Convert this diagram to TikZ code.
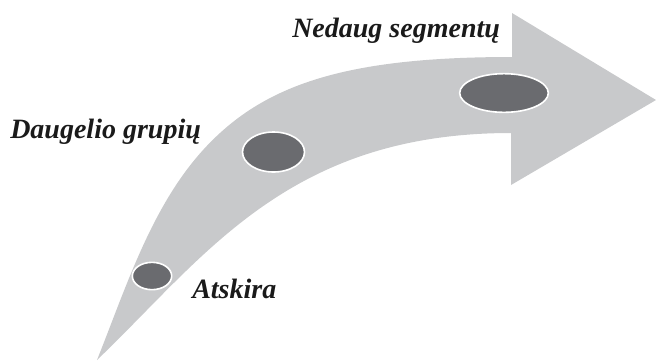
\documentclass[tikz,border=0pt]{standalone}
\usepackage{fontspec}
\setmainfont{Liberation Serif}
\usepackage{xcolor}
\usepackage{tikz}
\usetikzlibrary{positioning,shapes.geometric}
\definecolor{roadgray}{HTML}{C8C9CB}
\definecolor{stone}{HTML}{6A6B6F}
\definecolor{ink}{HTML}{1A1A1A}
\newcommand{\StageFont}{\bfseries\itshape\fontsize{21}{25}\selectfont}
\tikzset{
  every node/.style={text=ink},
  stagedisc/.style 2 args={
    ellipse, draw=white, line width=1.2pt, fill=stone,
    minimum width=#1, minimum height=#2, inner sep=0pt
  },
  stagelabel/.style={anchor=base west, inner sep=0pt, font=\StageFont}
}

\begin{document}
\begin{tikzpicture}[x=0.75pt,y=-0.75pt]
\useasboundingbox (0,0) rectangle (656,362);

% =========================
% CURVED ARROW (shaft + head)
% =========================
\coordinate (tail)  at (97,360);
\coordinate (bend)  at (220,133);
\coordinate (upJ)   at (512,57);   % upper shaft meets head
\coordinate (loJ)   at (511,133);  % lower shaft meets head
\coordinate (headT) at (512,13);
\coordinate (headB) at (511,185);
\coordinate (tip)   at (656,100);

\fill[roadgray] (tail) .. controls (129,280) and (156,191) .. (bend)
      .. controls (279,79) and (362,57) .. (upJ)
      -- (headT) -- (tip) -- (headB) -- (loJ)
      .. controls (288,133) and (205,256.5) .. (tail) -- cycle;

% =========================
% STAGES (discs with white rims)
% =========================
\node[stagedisc={29.5pt}{20.5pt}] (one)  at (152,276) {};
\node[stagedisc={46.5pt}{30pt}]   (many) at (273.5,152) {};
\node[stagedisc={66.5pt}{29pt}]   (few)  at (504,93) {};

% =========================
% LABELS
% =========================
\node[stagelabel] (lblOne)  at (192,298) {Atskira};
\node[stagelabel] (lblMany) at (10,138)  {Daugelio grupių};
\node[stagelabel] (lblFew)  at (292,37)  {Nedaug segmentų};

\end{tikzpicture}
\end{document}
